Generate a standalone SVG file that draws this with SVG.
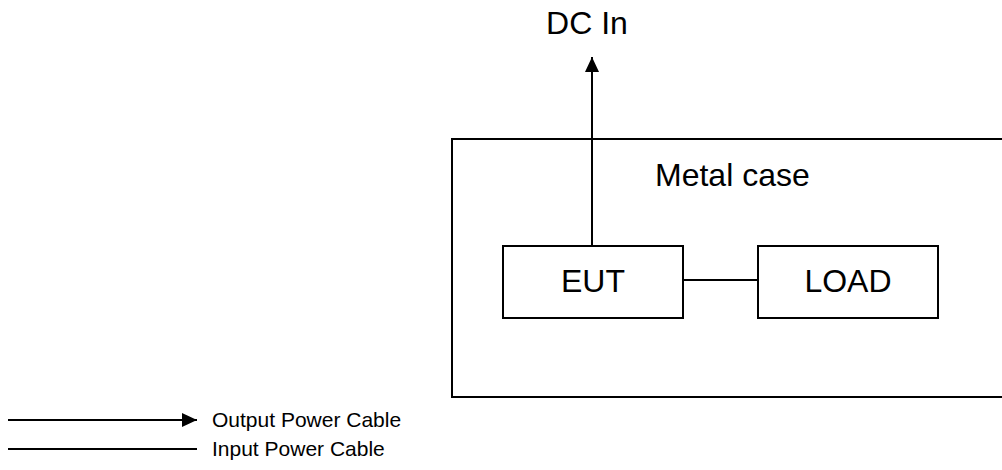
<svg xmlns="http://www.w3.org/2000/svg" width="1002" height="470" viewBox="0 0 1002 470">
<style>
.box{fill:none;stroke:#000;stroke-width:2}
.ln{fill:none;stroke:#000;stroke-width:2}
.t{font-family:"Liberation Sans",Arial,sans-serif;fill:#000}
.big{font-size:32px}
.sm{font-size:21px}
</style>
<defs>
<marker id="arr" markerWidth="15" markerHeight="14" refX="15" refY="7" orient="auto" markerUnits="userSpaceOnUse">
<path d="M0,0 L15,7 L0,14 Z" fill="#000"/>
</marker>
</defs>
<rect x="0" y="0" width="1002" height="470" fill="#fff"/>
<g id="metal-case">
<rect class="box" x="452" y="139" width="560" height="258"/>
<text class="t big" x="655" y="186">Metal case</text>
</g>
<g id="dc-in">
<text class="t big" x="587" y="34" text-anchor="middle">DC In</text>
</g>
<g id="eut">
<rect class="box" x="503" y="246" width="180" height="72"/>
<text class="t big" x="593" y="292" text-anchor="middle">EUT</text>
</g>
<g id="load">
<rect class="box" x="758" y="246" width="180" height="72"/>
<text class="t big" x="848" y="292" text-anchor="middle">LOAD</text>
</g>
<g id="connectors">
<line class="ln" x1="592" y1="246" x2="592" y2="57" marker-end="url(#arr)"/>
<line class="ln" x1="683" y1="280" x2="758" y2="280"/>
</g>
<g id="legend">
<line class="ln" x1="8" y1="420" x2="197" y2="420" marker-end="url(#arr)"/>
<text class="t sm" x="212" y="427">Output Power Cable</text>
<line class="ln" x1="8" y1="449" x2="197" y2="449"/>
<text class="t sm" x="212" y="456">Input Power Cable</text>
</g>
</svg>
